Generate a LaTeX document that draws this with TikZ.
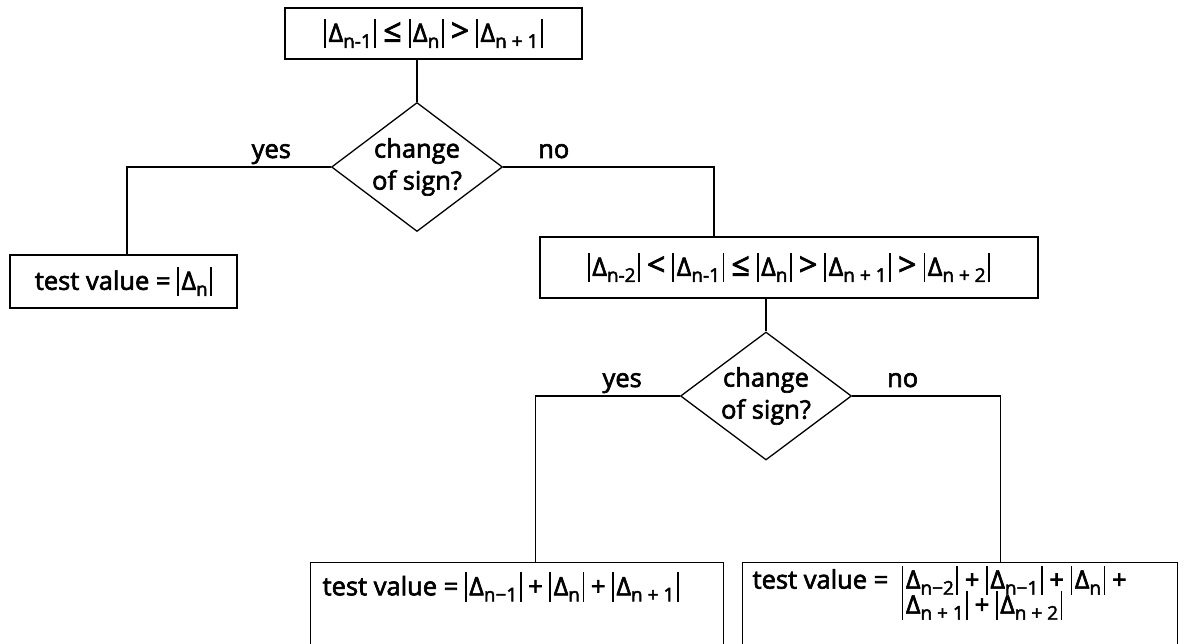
\documentclass[tikz,border=0pt]{standalone}
\usepackage{fontspec}
\setmainfont{Open Sans}[BoldFont={Open Sans}, BoldFeatures={FakeBold=2.5}]
\usetikzlibrary{shapes.geometric}

\newcommand{\vbar}{\rule[-0.25em]{0.07em}{1.15em}}
\newcommand{\dabs}[1]{\vbar\kern0.1em Δ\lower0.45ex\hbox{\fontsize{19}{19}\selectfont #1}\kern0.1em\vbar}
\newcommand{\bigrel}[1]{\kern0.28em{\fontsize{32}{32}\selectfont #1}\kern0.28em}

\begin{document}
\begin{tikzpicture}[x=1pt, y=-1pt, line width=1.3pt,
  every node/.style={font=\fontsize{25.5}{30}\selectfont\bfseries},
  condbox/.style={draw, rectangle, inner sep=0pt},
  decision/.style={draw, diamond, inner sep=-8pt, align=center, font=\fontsize{25.5}{32}\selectfont\bfseries},
  answer/.style={inner sep=0pt, anchor=base, yshift=9pt}]
\useasboundingbox (0,0) rectangle (1184,644);

% Conditions
\node[condbox, minimum width=297, minimum height=51] (cond1) at (433.5,33.5)
  {\dabs{n-1}\bigrel{≤}\dabs{n}\bigrel{>}\dabs{n + 1}};
\node[decision, minimum width=171, minimum height=129] (d1) at (417,167) {change\\of sign?};
\node[condbox, minimum width=227, minimum height=53] (res1) at (123.5,281.5) {test value = \dabs{n}};
\node[condbox, minimum width=498, minimum height=61] (cond2) at (789,267.5)
  {\dabs{n-2}\bigrel{<}\dabs{n-1}\bigrel{≤}\dabs{n}\bigrel{>}\dabs{n + 1}\bigrel{>}\dabs{n + 2}};
\node[decision, minimum width=171, minimum height=128] (d2) at (766,396) {change\\of sign?};

% Results
\node[condbox, minimum width=413, minimum height=90, anchor=north west] (res2) at (310,562) {};
\node[anchor=west, inner sep=0pt] (t2) at (322,587)
  {test value = \dabs{n−1} + \dabs{n} + \dabs{n + 1}};
\node[condbox, minimum width=435, minimum height=90, anchor=north west] (res3) at (742,562) {};
\node[anchor=north west, inner sep=0pt, align=left,
  font={\fontsize{25.5}{25}\selectfont\bfseries\lineskiplimit=-10pt}] (t3) at (752,565)
  {test value =\ \ \dabs{n−2} + \dabs{n−1} + \dabs{n} +\\
   \hphantom{test value =\ \ }\dabs{n + 1} + \dabs{n + 2}};

% Connectors
\draw (cond1.south -| d1.north) -- (d1.north);
\draw (d1.west) -| ([xshift=3.5pt]res1.north) node[answer, pos=0.146] (yes1) {yes};
\draw (d1.east) -| ([xshift=-75pt]cond2.north) node[answer, pos=0.12] (no1) {no};
\draw (cond2.south -| d2.north) -- (d2.north);
\draw (d2.west) -| ([xshift=18.5pt]res2.north) node[answer, pos=0.2] (yes2) {yes};
\draw (d2.east) -| ([xshift=40.5pt]res3.north) node[answer, pos=0.17] (no2) {no};

\end{tikzpicture}
\end{document}
